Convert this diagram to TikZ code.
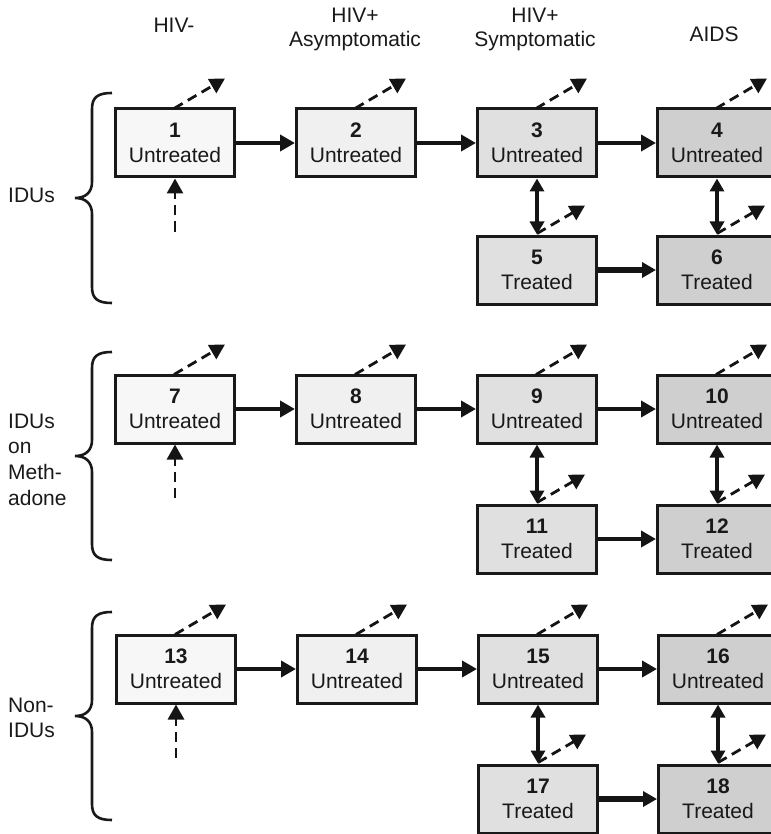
\documentclass[tikz,border=0pt]{standalone}
\usepackage{fontspec}
\setmainfont{Liberation Sans}
\usetikzlibrary{arrows.meta,calc}
\begin{document}
\begin{tikzpicture}[x=1pt,y=-1pt,
  every node/.style={font=\fontsize{21}{25}\selectfont, text=black!90},
  box/.style={draw=black!90, line width=3pt, minimum width=119pt, minimum height=68pt, align=center, inner sep=0pt},
  ca/.style={box, fill=black!3},
  cb/.style={box, fill=black!6},
  cc/.style={box, fill=black!12},
  cd/.style={box, fill=black!19},
  flow/.style={line width=3.8pt, draw=black!92, -{Triangle[length=15pt,width=16pt]}},
  thickflow/.style={line width=6.5pt, draw=black!92, -{Triangle[length=14pt,width=15pt]}},
  both/.style={line width=3.8pt, draw=black!92, {Triangle[length=13pt,width=14pt]}-{Triangle[length=13pt,width=14pt]}},
  exit/.style={line width=2.8pt, draw=black!92, dash pattern=on 10pt off 6pt, -{Triangle[length=15pt,width=16pt]}},
  brace/.style={line width=2.6pt, draw=black!90}
]
\useasboundingbox (0,0) rectangle (770,834);

% column headers
\node[anchor=base] (h1) at (174,33) {HIV-};
\node[anchor=base] (h2a) at (355,23) {HIV+};
\node[anchor=base] (h2b) at (355,47) {Asymptomatic};
\node[anchor=base] (h3a) at (535,23) {HIV+};
\node[anchor=base] (h3b) at (535,47) {Symptomatic};
\node[anchor=base] (h4) at (714,42) {AIDS};

% group labels
\node[anchor=base west, inner sep=0pt] (g1) at (8,203) {IDUs};
\node[anchor=base west, inner sep=0pt] (g2a) at (8,428) {IDUs};
\node[anchor=base west, inner sep=0pt] (g2b) at (8,453) {on};
\node[anchor=base west, inner sep=0pt] (g2c) at (8,479) {Meth-};
\node[anchor=base west, inner sep=0pt] (g2d) at (8,505) {adone};
\node[anchor=base west, inner sep=0pt] (g3a) at (8,712) {Non-};
\node[anchor=base west, inner sep=0pt] (g3b) at (8,737) {IDUs};

% braces
\foreach \yt/\ym/\yb in {93/198/303, 352/456/560, 612/716/820}{
  \draw[brace] (112,\yt) .. controls (98,\yt) and (92,\yt+4) .. (92,\yt+16)
    -- (92,\ym-16) .. controls (92,\ym-6) and (86,\ym) .. (75,\ym)
    .. controls (86,\ym) and (92,\ym+6) .. (92,\ym+16)
    -- (92,\yb-16) .. controls (92,\yb-4) and (98,\yb) .. (112,\yb);
}

% boxes
\node[ca] (b1) at (175,143) {\textbf{1}\\Untreated};
\node[cb] (b2) at (356,143) {\textbf{2}\\Untreated};
\node[cc] (b3) at (537,143) {\textbf{3}\\Untreated};
\node[cd] (b4) at (717,143) {\textbf{4}\\Untreated};
\node[cc] (b5) at (537,270) {\textbf{5}\\Treated};
\node[cd] (b6) at (717,270) {\textbf{6}\\Treated};

\node[ca] (b7) at (175,409) {\textbf{7}\\Untreated};
\node[cb] (b8) at (356,409) {\textbf{8}\\Untreated};
\node[cc] (b9) at (537,409) {\textbf{9}\\Untreated};
\node[cd] (b10) at (717,409) {\textbf{10}\\Untreated};
\node[cc] (b11) at (537,539) {\textbf{11}\\Treated};
\node[cd] (b12) at (717,539) {\textbf{12}\\Treated};

\node[ca] (b13) at (176,669) {\textbf{13}\\Untreated};
\node[cb] (b14) at (357,669) {\textbf{14}\\Untreated};
\node[cc] (b15) at (538,669) {\textbf{15}\\Untreated};
\node[cd] (b16) at (718,669) {\textbf{16}\\Untreated};
\node[cc] (b17) at (538,799) {\textbf{17}\\Treated};
\node[cd] (b18) at (718,799) {\textbf{18}\\Treated};

% horizontal flows
\draw[flow] (b1) -- (b2);
\draw[flow] (b2) -- (b3);
\draw[flow] (b3) -- (b4);
\draw[thickflow] (b5) -- (b6);
\draw[flow, line width=4.6pt] (b7.east) -- (b8.west);
\draw[flow] (b8) -- (b9);
\draw[flow] (b9) -- (b10);
\draw[flow] (b11) -- (b12);
\draw[flow] (b13) -- (b14);
\draw[flow] (b14) -- (b15);
\draw[flow] (b15) -- (b16);
\draw[thickflow] (b17) -- (b18);

% vertical double arrows
\draw[both] (b3) -- (b5);
\draw[both] (b4) -- (b6);
\draw[both] (b9) -- (b11);
\draw[both] (b10) -- (b12);
\draw[both] (b15) -- (b17);
\draw[both] (b16) -- (b18);

% exits (deaths) and entries
\foreach \b in {b1,b2,b3,b4,b7,b8,b9,b10,b13,b14,b15,b16}{
  \coordinate (e\b) at ($(\b.north)+(50,-29)$);
  \draw[exit] ($(\b.north)+(-1,1)$) -- (e\b);
}
\foreach \b in {b5,b6,b11,b12,b17,b18}{
  \coordinate (e\b) at ($(\b.north)+(48,-29)$);
  \draw[exit] ($(\b.north)+(0,-1)$) -- (e\b);
}
\foreach \b in {b1,b7,b13}{
  \coordinate (u\b) at ($(\b.south)+(0,53)$);
  \draw[exit] (u\b) -- (\b.south);
}
\end{tikzpicture}
\end{document}
